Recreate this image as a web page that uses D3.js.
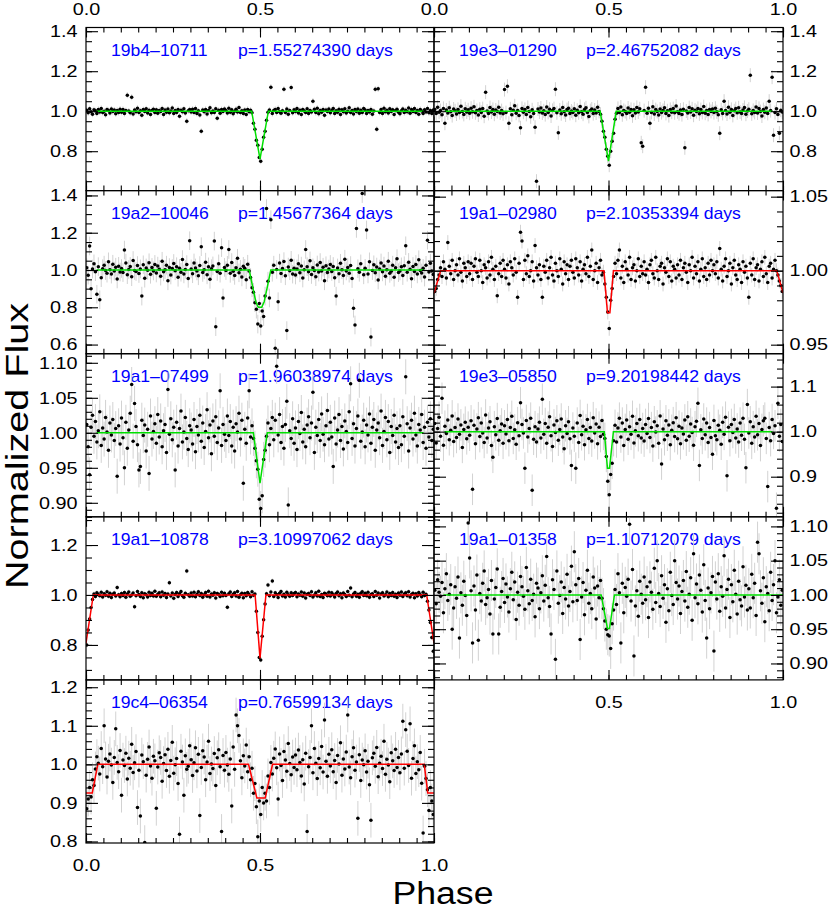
<!DOCTYPE html>
<html>
<head>
<meta charset="utf-8">
<script src="https://cdn.jsdelivr.net/npm/d3@7"></script>
<style>
body { margin: 0; background: #fff; }
text { font-family: "Liberation Sans", Arial, Helvetica, sans-serif; }
</style>
</head>
<body>
<div id="chart"></div>
<script>
// panel order: left/right column, row by row
var starIds = ["19b4-10711", "19e3-01290", "19a2-10046", "19a1-02980", "19a1-07499",
               "19e3-05850", "19a1-10878", "19a1-01358", "19c4-06354"];
var periods = ["1.55274390", "2.46752082", "1.45677364", "2.10353394", "1.96038974",
               "9.20198442", "3.10997062", "1.10712079", "0.76599134"];
var fluxErr = [0.015, 0.035, 0.05, 0.005, 0.025, 0.035, 0.01, 0.03, 0.045];
var yRange = [[0.603, 1.4185], [0.603, 1.4185], [0.551, 1.426], [0.9439, 1.0541], [0.880, 1.113],
              [0.811, 1.173], [0.660, 1.313], [0.876, 1.114], [0.796, 1.219]];
var yTicks = [[0.8, 1.0, 1.2, 1.4], [0.8, 1.0, 1.2, 1.4], [0.6, 0.8, 1.0, 1.2, 1.4], [0.95, 1.00, 1.05],
              [0.90, 0.95, 1.00, 1.05, 1.10], [0.9, 1.0, 1.1], [0.8, 1.0, 1.2],
              [0.90, 0.95, 1.00, 1.05, 1.10], [0.8, 0.9, 1.0, 1.1, 1.2]];
var yMinorStep = [0.05, 0.05, 0.05, 0.01, 0.01, 0.02, 0.05, 0.01, 0.02];
var yDecimals = [1, 1, 1, 2, 2, 1, 1, 2, 1];
var phaseTicks = [0, 0.5, 1];

// binned light curves: flux - 1 in units of 0.001, 240 phase bins each
var dev_19b4_10711 = [
 5,-8,12,-3,-15,7,2,-11,9,-4,14,-6,0,-18,8,3,-9,11,-2,6,-13,4,-7,10,
 -5,9,-12,3,80,1,-8,70,-14,6,-3,15,-7,2,-20,8,-1,12,-9,5,-16,3,10,-6,
 7,-10,4,-2,13,-17,6,-5,11,-8,1,16,-12,3,-6,9,-25,5,-3,12,-9,-50,2,8,
 -4,10,-7,14,-11,2,-19,-100,6,-3,9,-14,4,17,-8,1,-6,12,-35,5,-10,8,-2,11,
 3,-9,15,-5,7,-13,0,10,-4,18,-7,2,-11,6,-16,9,-3,5,-8,-60,-90,-145,-170,-232,
 -250,-190,-130,-100,-45,-5,6,120,-12,4,9,-7,14,-3,-10,2,110,-6,11,-15,3,118,-8,7,
 -2,13,-9,5,-17,8,1,-6,12,-11,4,-4,50,10,-7,15,-13,3,-5,9,-20,6,-1,11,
 -8,4,14,-12,2,-5,10,-16,7,-3,12,-9,0,17,-6,3,-14,8,-2,11,-10,5,-7,13,
 6,-11,3,-4,9,-15,1,110,-90,112,-6,8,-12,15,-3,5,-9,12,-1,7,-17,4,10,-5,
 -13,2,11,-7,5,-3,16,-10,8,-2,13,-6,4,-15,9,1,-11,7,-4,14,-8,3,-12,6];
var dev_19e3_01290 = [
 8,-12,20,-5,3,-18,14,-60,6,-9,17,-3,-22,11,2,-14,9,-7,25,-1,-16,12,-4,7,
 -10,15,-3,22,-8,4,-19,10,-6,13,-25,95,1,-11,18,-4,9,-15,6,-2,20,-9,3,-13,
 108,-7,125,-60,12,-18,5,27,-10,3,-21,-83,14,-5,9,-16,19,-2,-28,7,-12,-80,-350,11,
 -4,16,-9,2,-17,21,-6,10,-24,4,13,110,-8,-108,6,-13,18,-3,-19,8,15,-11,1,-7,
 12,-20,5,-8,24,-3,-15,9,17,-6,-26,3,11,-12,6,-9,20,-1,-15,-50,-100,-130,-190,-225,
 -270,-200,-150,-110,-40,-10,14,-7,21,-18,4,-2,-12,16,-5,9,-23,7,-9,19,-4,12,-158,-175,
 3,120,-10,15,-60,-6,22,-14,8,-1,-19,11,-7,4,17,-11,2,-22,9,-5,13,-8,26,-3,
 -12,6,-17,10,-183,1,-9,18,-4,12,-20,5,-2,14,-13,8,-6,23,-10,3,-16,9,-1,11,
 -7,15,-3,-18,-110,7,-11,50,4,-14,20,-5,9,-21,2,13,-8,17,-4,-12,6,19,-15,1,
 10,180,-13,4,-6,21,-9,14,-2,-24,8,-5,16,-11,50,3,170,-120,-7,12,-17,-110,5,-4];
var dev_19a2_10046 = [
 12,-28,129,-100,5,33,-9,-130,18,-160,-41,7,26,-3,-17,44,2,-22,31,-6,15,-48,20,-11,
 8,-14,107,37,-25,3,19,-36,51,-2,-8,24,-19,6,-140,28,-44,11,-1,39,-23,14,-5,30,
 -16,21,4,-33,47,-10,2,26,-58,13,-27,8,35,-4,18,-39,9,-12,56,-21,3,29,-45,157,
 6,-20,38,11,-5,-31,24,125,-13,1,42,-26,17,-50,7,22,155,-304,-8,33,-17,120,-150,14,
 -3,25,110,-18,40,-7,-29,12,63,-15,4,-37,20,9,-52,31,-6,-40,-95,-120,-175,-210,-290,-180,
 -300,-220,-250,-140,330,-60,-150,270,-12,26,-420,3,-170,37,-19,8,45,-31,-325,16,-4,52,-22,10,
 -27,6,34,-15,21,-43,1,110,18,-9,49,-24,12,-2,-36,27,-11,40,-6,15,-58,23,-14,5,
 30,-8,19,-41,-140,11,-20,36,2,-29,58,-5,13,-17,24,-46,-205,-295,223,7,-12,33,410,-26,
 9,215,-21,44,-360,-3,28,-15,16,-54,5,38,-10,21,-33,2,47,-18,-7,26,-39,12,61,-14,
 -5,17,-30,23,130,-12,41,4,-47,19,-8,30,-21,55,-2,-16,9,-38,25,160,-11,36,-6,-24];
var dev_19a1_02980 = [
 -14,-12,-6,-3,2,-4,6,1,-5,19,3,-2,7,-6,0,4,-3,8,-1,-7,5,2,-4,6,
 -2,5,-6,3,8,-1,-4,7,0,-8,4,2,-5,6,-3,9,1,-6,3,-17,-2,5,-4,7,
 1,-5,4,-9,6,2,-3,8,-1,-18,5,26,20,-6,7,-2,10,-4,0,6,-7,17,2,-3,
 4,-6,-18,3,-1,7,-5,2,9,-3,-7,5,0,-4,8,1,-9,6,-2,4,-6,3,7,-1,
 -5,8,2,-3,6,-7,1,4,-2,9,-4,3,14,-6,0,5,-8,2,7,-3,-1,-9,-18,-28,
 -39,-20,-12,-4,5,-2,7,14,-5,3,-8,6,1,-3,9,-6,2,4,-7,0,8,-4,3,-2,
 6,-3,1,-8,4,7,-2,-5,9,0,-6,3,5,-9,2,-1,8,-4,6,-7,3,1,-5,4,
 -3,7,-6,2,5,-1,-8,4,0,9,-5,3,-2,6,-7,1,8,-4,2,-6,5,-3,7,0,
 4,-2,6,-5,15,1,-7,3,8,-4,0,5,-9,2,7,-3,-6,4,1,-8,6,-1,3,-5,
 -18,5,-3,8,-6,2,4,-7,1,6,-4,9,-2,-8,3,5,-5,1,7,0,-3,-7,-10,-14];
var dev_19a1_07499 = [
 12,-20,-60,8,25,-5,16,-13,3,30,-18,7,-9,22,1,-25,14,-3,19,-11,6,-62,10,-16,
 21,-7,-50,15,-22,4,28,69,-12,42,9,-17,-53,-48,18,-4,11,-26,5,-58,24,-9,2,13,
 -15,26,-6,17,-20,3,12,-28,62,-2,20,-10,8,-53,15,-19,6,31,-13,1,22,-8,-24,10,
 4,-16,19,-27,9,-3,25,-12,14,-21,2,33,-7,11,-30,17,-5,23,-14,7,60,-18,12,-2,
 -11,24,-4,16,-19,8,-26,13,1,28,-9,18,-72,5,-15,21,60,-6,10,-8,-22,-40,-52,-95,
 -108,-90,-38,-25,-5,14,-17,6,22,-10,18,95,-3,26,-14,9,-22,12,45,-103,3,-8,20,-15,
 7,-24,16,-1,29,-13,5,-20,11,23,-7,14,58,-28,8,-4,19,-11,27,-2,-17,10,32,-9,
 15,-6,-48,21,-16,4,26,-11,9,-23,17,2,-14,30,70,-8,13,-19,6,24,75,-12,1,18,
 -20,11,-3,27,-15,8,19,-25,4,14,-7,31,-18,2,22,-10,16,-28,9,-4,25,-13,6,-21,
 10,-17,23,-5,80,13,-26,7,18,-9,28,-3,-19,12,4,26,-14,8,-22,15,-6,20,-11,5];
var dev_19e3_05850 = [
 18,-25,7,32,-10,74,-30,12,-4,26,-18,3,35,-22,9,-13,28,-6,15,-35,5,21,-16,10,
 -8,24,-128,14,-27,6,31,-11,19,-3,-24,37,-14,8,22,-31,-57,11,-7,29,-19,2,17,-26,
 13,-5,27,-20,9,34,-15,4,-28,20,-9,64,16,-3,-81,25,-12,7,30,-130,-17,11,-23,6,
 21,-14,72,-6,18,-26,10,33,-9,-33,15,-2,24,-19,5,28,-12,-38,13,-4,22,-16,-75,8,
 -10,-81,19,-24,36,-7,12,-29,4,27,-15,9,-21,31,-3,17,-27,10,-11,25,-6,-15,-55,-110,
 -140,-95,-70,-20,14,-23,8,30,-12,19,-31,5,26,-17,11,-6,34,-25,2,18,-9,27,-14,7,
 -21,16,-4,29,-13,9,-32,22,-1,13,-26,35,-72,6,-18,24,-8,15,-29,3,20,-11,31,-16,
 12,-27,8,-5,26,-19,33,-10,17,-2,-30,11,23,63,-75,4,-15,28,-7,19,-24,9,-13,-50,
 25,-9,-18,14,3,-28,21,-6,32,-98,10,-20,16,-2,27,-14,6,-23,19,-8,30,-17,-80,60,
 -3,22,-26,11,-12,34,-7,18,-31,5,24,30,-15,-122,9,-20,27,-4,13,-170,63,-10,16,-22];
var dev_19a1_10878 = [
 -200,-140,-96,-50,-18,4,-6,9,2,-3,11,-8,5,-1,13,-5,7,-10,3,8,-4,30,1,-7,
 6,-2,10,-9,4,12,-5,0,8,-47,-3,14,2,-6,9,-11,5,1,-8,11,-2,7,-4,15,
 -5,3,9,-7,12,-1,6,-10,4,49,-4,8,-13,2,10,-6,5,14,-3,-9,7,96,1,-5,
 8,-4,11,-7,3,13,-2,6,-9,1,10,-5,15,-8,4,-1,9,-12,6,2,-6,11,-3,7,
 -2,-49,5,12,-6,3,9,-4,14,-9,1,7,-11,6,-3,10,2,-7,13,-1,4,-65,-150,-250,
 -260,-165,-99,-36,5,40,-3,12,56,-6,9,2,-10,7,14,-4,3,-8,11,1,-5,9,-2,6,
 10,-7,4,-1,12,-5,8,-12,3,6,-2,13,-8,0,9,-4,15,-6,2,-10,7,4,-3,11,
 -4,9,1,-8,6,12,-3,5,-11,8,2,-6,14,-1,28,-7,4,10,-5,3,-9,7,13,-2,
 7,-3,11,-9,2,5,-6,14,-1,8,-12,4,9,-4,1,12,-7,6,-2,10,-5,3,-10,8,
 -1,12,-6,4,9,-3,13,-8,2,7,-11,5,-4,10,1,-7,11,-2,3,-25,-60,-110,-170,-225];
var dev_19a1_01358 = [
 7,-13,22,4,-2,18,-26,9,31,-8,1,15,-50,-19,12,-5,26,-63,3,-15,20,-1,-30,105,
 54,6,-70,13,-22,29,-66,2,-9,17,35,-14,-4,8,-28,21,-57,-6,11,38,-57,-18,5,24,
 -11,16,-3,-25,9,33,-7,19,-36,4,-15,27,12,-2,-21,40,6,-13,23,-8,1,-32,17,10,
 -20,3,28,-9,14,56,-4,-17,-57,22,8,-94,35,-12,-1,19,-27,11,-6,30,-16,5,42,-10,
 63,15,-8,24,-65,-3,18,-29,7,36,-12,2,-20,26,10,-35,13,-4,21,-5,-20,-38,-50,-58,
 -60,-78,-42,-22,8,-14,31,3,-70,17,-26,11,-2,23,103,-9,37,-89,-16,6,-31,20,1,-12,
 26,-7,12,-33,19,4,-21,39,-11,50,2,-17,28,-5,15,-40,9,-23,33,-1,-14,50,18,-6,
 13,-27,5,21,-9,34,-18,1,25,-37,60,-4,16,-13,29,7,-25,44,-8,-63,10,-20,3,27,
 -82,19,-6,31,-24,12,-2,57,-19,8,23,-33,15,-10,36,1,-28,20,-7,-16,41,-3,14,-22,
 9,-19,30,-4,17,-30,77,60,6,-12,25,-39,12,2,-23,33,-8,15,50,-26,-3,22,-15,7];
var dev_19c4_06354 = [
 -115,-90,-60,-85,-40,-55,-12,20,3,-25,41,-6,100,14,-33,8,27,-2,-47,18,92,5,-19,36,
 -80,11,-3,29,-38,16,-10,52,-21,4,33,-112,-15,-134,24,7,-203,-28,13,45,-4,-36,21,9,
 -114,-7,30,18,-44,2,25,-16,39,-31,10,57,-23,-1,15,-50,-181,34,6,-80,22,-13,-5,48,
 12,-29,4,43,-17,26,-133,-8,35,19,-40,6,60,-24,1,-11,28,-55,17,38,-6,-174,23,-15,
 31,-2,-26,14,-108,45,-13,128,100,75,9,-35,22,-4,50,-19,20,-40,-10,-75,-50,-110,-188,-95,
 -130,-60,-100,-75,-95,-30,-60,5,-25,16,40,-9,-90,27,-3,-42,33,11,-18,54,2,-27,19,-8,
 24,-14,37,5,-30,12,-51,29,-174,-6,18,100,-22,41,3,-37,15,-9,46,-20,115,8,-31,26,
 -4,38,-19,10,-47,23,1,56,-28,14,-12,32,128,-7,-35,20,43,-15,6,-140,25,-42,11,-1,
 35,-20,8,-53,-145,17,29,-5,44,-32,3,21,-11,60,-26,13,-2,-45,30,9,-16,39,-8,18,
 -22,27,112,-10,90,34,-3,105,-36,15,48,-24,7,-14,31,-49,-178,-5,-37,-66,-120,-60,-95,-130];

// fitted eclipse models: [phase, flux] knots
var model_19b4_10711 = [[0.03, 1], [0.476, 1], [0.5, 0.76], [0.524, 1], [0.97, 1]];
var model_19e3_01290 = [[0.03, 1], [0.476, 1], [0.5, 0.75], [0.522, 1], [0.97, 1]];
var model_19a2_10046 = [[0.03, 1], [0.469, 1], [0.48, 0.9], [0.488, 0.83], [0.495, 0.8], [0.505, 0.8],
                        [0.512, 0.83], [0.52, 0.9], [0.531, 1], [0.97, 1]];
var model_19a1_02980 = [[0, 0.9847], [0.019, 1], [0.487, 1], [0.497, 0.9716], [0.504, 0.9716],
                        [0.514, 1], [0.982, 1], [1, 0.985]];
var model_19a1_07499 = [[0.03, 1], [0.481, 1], [0.5, 0.928], [0.521, 1], [0.97, 1]];
var model_19e3_05850 = [[0.03, 1], [0.488, 1], [0.497, 0.919], [0.503, 0.919], [0.514, 1], [0.97, 1]];
var model_19a1_10878 = [[0, 0.807], [0.021, 1], [0.486, 1], [0.5, 0.747], [0.517, 1], [0.979, 1], [1, 0.807]];
var model_19a1_01358 = [[0.027, 1], [0.479, 1], [0.497, 0.951], [0.503, 0.951], [0.517, 1], [1, 1]];
var model_19c4_06354 = [[0, 0.926], [0.018, 0.926], [0.034, 1], [0.467, 1], [0.491, 0.913], [0.515, 0.913],
                        [0.536, 1], [0.972, 1], [0.982, 0.926], [1, 0.926]];

var devs = [dev_19b4_10711, dev_19e3_01290, dev_19a2_10046, dev_19a1_02980, dev_19a1_07499,
            dev_19e3_05850, dev_19a1_10878, dev_19a1_01358, dev_19c4_06354];
var models = [model_19b4_10711, model_19e3_01290, model_19a2_10046, model_19a1_02980, model_19a1_07499,
              model_19e3_05850, model_19a1_10878, model_19a1_01358, model_19c4_06354];
var redModel = [false, false, false, true, false, false, true, false, true];

var svg = d3.select("#chart").append("svg")
    .attr("width", 830)
    .attr("height", 912);

var colX = [86, 434], colW = [348, 349];
var top0 = 27.5, rowH = 163.1;
var font = 16.5, stretch = 1.2;

devs.forEach(function(dev, i) {
    var col = i % 2, row = Math.floor(i / 2);
    var w = colW[col], h = rowH;
    var isBottom = (col == 0 && row == 4) || (col == 1 && row == 3);

    var x = d3.scaleLinear().domain([0, 1]).range([0, w]);
    var y = d3.scaleLinear().domain(yRange[i]).range([h, 0]);

    var g = svg.append("g")
        .attr("transform", "translate(" + colX[col] + "," + (top0 + row * h) + ")");

    g.append("clipPath").attr("id", "clip" + i)
        .append("rect").attr("width", w).attr("height", h);

    // label first, data is drawn over it
    g.append("text")
        .attr("transform", "translate(25,28.5) scale(1.1,1)")
        .attr("fill", "#0000ff")
        .style("font-size", "16px")
        .text(starIds[i].replace("-", "\u2013"));
    g.append("text")
        .attr("transform", "translate(152,28.5) scale(1.1,1)")
        .attr("fill", "#0000ff")
        .style("font-size", "16px")
        .text("p=" + periods[i] + " days");

    var pts = dev.map(function(d, k) {
        return {ph: (k + 0.5) / dev.length, f: 1 + d / 1000};
    });

    var plot = g.append("g").attr("clip-path", "url(#clip" + i + ")");

    plot.selectAll("line.err")
        .data(pts)
        .enter()
        .append("line")
        .attr("class", "err")
        .attr("x1", function(d) { return x(d.ph); })
        .attr("x2", function(d) { return x(d.ph); })
        .attr("y1", function(d) { return y(d.f - fluxErr[i]); })
        .attr("y2", function(d) { return y(d.f + fluxErr[i]); })
        .attr("stroke", "#d2d2d2")
        .attr("stroke-width", 1);

    plot.selectAll("circle")
        .data(pts)
        .enter()
        .append("circle")
        .attr("cx", function(d) { return x(d.ph); })
        .attr("cy", function(d) { return y(d.f); })
        .attr("r", 1.75)
        .attr("fill", "#000");

    plot.append("path")
        .datum(models[i])
        .attr("d", d3.line().x(function(d) { return x(d[0]); }).y(function(d) { return y(d[1]); }))
        .attr("fill", "none")
        .attr("stroke", redModel[i] ? "#ff0000" : "#00e000")
        .attr("stroke-width", 1.5);

    // axes, ticks pointing inwards on all four sides
    var fmt = d3.format("." + yDecimals[i] + "f");
    var lo = yRange[i][0], hi = yRange[i][1], st = yMinorStep[i];
    var minor = d3.range(Math.ceil(lo / st - 1e-6), Math.floor(hi / st + 1e-6) + 1)
        .map(function(k) { return +(k * st).toFixed(4); });
    var xMinor = d3.range(0, 21).map(function(k) { return k * 0.05; });

    function clean(a) {
        a.select(".domain").remove();
        a.selectAll("line").attr("stroke", "#000").attr("stroke-width", 1.1);
        a.selectAll("text")
            .attr("fill", "#000")
            .style("font-size", font + "px")
            .attr("transform", "scale(" + stretch + ",1)");
    }

    var leftLab = col == 0;
    g.append("g").call(d3.axisLeft(y).tickValues(minor).tickSize(-6).tickFormat("")).call(clean);
    g.append("g").call(d3.axisLeft(y).tickValues(yTicks[i]).tickSize(-12).tickPadding(7)
        .tickFormat(leftLab ? fmt : "")).call(clean);
    g.append("g").attr("transform", "translate(" + w + ",0)")
        .call(d3.axisRight(y).tickValues(minor).tickSize(-6).tickFormat("")).call(clean);
    g.append("g").attr("transform", "translate(" + w + ",0)")
        .call(d3.axisRight(y).tickValues(yTicks[i]).tickSize(-12).tickPadding(5.5)
        .tickFormat(leftLab ? "" : fmt)).call(clean);

    var topVals = row == 0 ? (col == 0 ? [0, 0.5] : phaseTicks) : [];
    var botVals = isBottom ? (col == 0 ? phaseTicks : [0.5, 1]) : [];
    var xf = d3.format(".1f");

    g.append("g").call(d3.axisTop(x).tickValues(xMinor).tickSize(-5).tickFormat("")).call(clean);
    g.append("g").call(d3.axisTop(x).tickValues(phaseTicks).tickSize(-10).tickPadding(12.5)
        .tickFormat(function(d) { return topVals.indexOf(d) >= 0 ? xf(d) : ""; })).call(clean);
    g.append("g").attr("transform", "translate(0," + h + ")")
        .call(d3.axisBottom(x).tickValues(xMinor).tickSize(-5).tickFormat("")).call(clean);
    g.append("g").attr("transform", "translate(0," + h + ")")
        .call(d3.axisBottom(x).tickValues(phaseTicks).tickSize(-10).tickPadding(16)
        .tickFormat(function(d) { return botVals.indexOf(d) >= 0 ? xf(d) : ""; })).call(clean);

    g.append("rect")
        .attr("width", w).attr("height", h)
        .attr("fill", "none")
        .attr("stroke", "#000")
        .attr("stroke-width", 1.2);
});

svg.append("text")
    .attr("transform", "translate(28,446) rotate(-90)")
    .attr("text-anchor", "middle")
    .attr("textLength", 286)
    .attr("lengthAdjust", "spacingAndGlyphs")
    .style("font-size", "31px")
    .text("Normalized Flux");

svg.append("text")
    .attr("x", 443)
    .attr("y", 904)
    .attr("text-anchor", "middle")
    .attr("textLength", 101)
    .attr("lengthAdjust", "spacingAndGlyphs")
    .style("font-size", "31px")
    .text("Phase");
</script>
</body>
</html>
